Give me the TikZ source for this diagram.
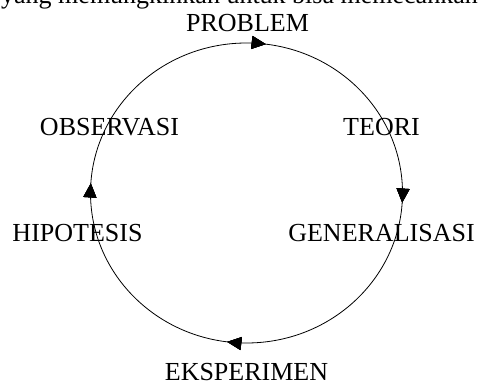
\documentclass[tikz,border=0pt]{standalone}
\usepackage{fontspec}
\setmainfont{Liberation Serif}
\usetikzlibrary{arrows.meta,decorations.markings}

\begin{document}
\begin{tikzpicture}[
   x=1pt, y=1pt,
   stage/.style={inner sep=0pt, font=\fontsize{26}{30}\selectfont},
   cycle arrow/.style={
       decoration={
           markings,% arrows along the cycle
           mark=at position #1 with {\arrow{Triangle[length=14pt,width=13pt]}}
         },
         postaction=decorate
       }
  ]
  \useasboundingbox (0,0) rectangle (481,383);
  \clip (0,0) rectangle (481,383);
  % cut-off line of the page above
  \node [stage, anchor=base west] (page line) at (1,379) {yang memungkinkan untuk bisa memecahkan};
  % stages of the cycle
  \node [stage] (problem) at (247.5,359.5) {PROBLEM};
  \node [stage] (teori) at (381.5,255.5) {TEORI};
  \node [stage] (generalisasi) at (381.5,149.5) {GENERALISASI};
  \node [stage] (eksperimen) at (246.5,10.5) {EKSPERIMEN};
  \node [stage] (hipotesis) at (77.5,149.5) {HIPOTESIS};
  \node [stage] (observasi) at (109.5,255.5) {OBSERVASI};
  % the cycle itself, clockwise from the top
  \coordinate (centre) at (246.5,190);
  \draw [line width=0.8pt,
     cycle arrow=0.02,
     cycle arrow=0.26,
     cycle arrow=0.52,
     cycle arrow=0.76,
  ] (centre) ++(0,150)
     arc [start angle=90, end angle=-270, x radius=156, y radius=150];
\end{tikzpicture}
\end{document}
